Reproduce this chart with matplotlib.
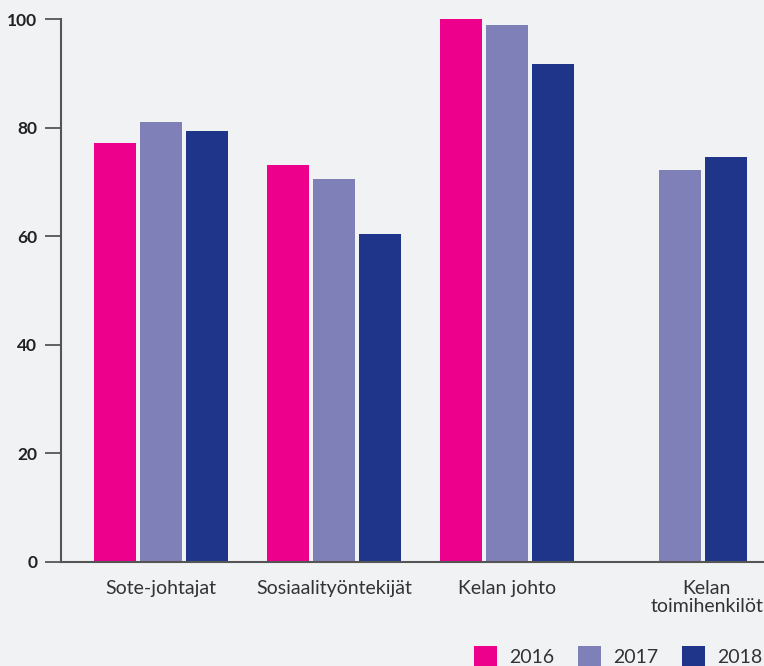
import matplotlib
matplotlib.use("Agg")
import matplotlib.pyplot as plt
import matplotlib.transforms as mtransforms
from matplotlib.patches import Patch
import numpy as np

categories = ["Sote-johtajat", "Sosiaalityöntekijät", "Kelan johto", "Kelan\ntoimihenkilöt"]
years = ["2016", "2017", "2018"]
v2016 = [77.2, 73.1, 100.0, None]
v2017 = [81.0, 70.5, 98.9, 72.2]
v2018 = [79.4, 60.4, 91.7, 74.6]
yticks = [0, 20, 40, 60, 80, 100]

colors = ["#ec008c", "#8080b8", "#1f3589"]
bg = "#f1f2f4"
axc = "#555555"
plt.rcParams['font.family'] = ['Lato', 'DejaVu Sans']

fig = plt.figure(figsize=(7.64, 6.66), dpi=100, facecolor=bg)
ax = fig.add_axes([61/764, 1-562/666, 1-61/764, (562-19)/666])
ax.set_facecolor(bg)

x = np.arange(len(categories))
width = 0.243
offset = 0.266
handles = []
for i, (vals, c, yr) in enumerate(zip([v2016, v2017, v2018], colors, years)):
    xs = [xi + (i-1)*offset for xi, v in zip(x, vals) if v is not None]
    vs = [v for v in vals if v is not None]
    ax.bar(xs, vs, width=width, color=c, zorder=2)
    handles.append(Patch(facecolor=c, label=yr))

ax.set_xlim(-0.578, 3.486)
ax.set_ylim(0, 100)
ax.set_yticks(yticks)
ax.set_yticklabels([str(t) for t in yticks], fontsize=12.5, fontweight='bold', color='#222222')
ax.tick_params(axis='y', length=11.5, width=1.3, color=axc, pad=5.5)
ax.set_xticks(x)
ax.set_xticklabels(categories, fontsize=14, color='#333333', linespacing=1.1)
ax.tick_params(axis='x', length=0, pad=13)
# shift last label
lbl = ax.get_xticklabels()[-1]
lbl.set_transform(lbl.get_transform() + mtransforms.ScaledTranslation(27/100, 0, fig.dpi_scale_trans))

for s in ['top', 'right']:
    ax.spines[s].set_visible(False)
for s in ['left', 'bottom']:
    ax.spines[s].set_color(axc)
    ax.spines[s].set_linewidth(1.5)
    ax.spines[s].set_zorder(3)

fig.legend(handles=handles, loc='lower right', bbox_to_anchor=(1.016, -0.021), ncol=3,
           frameon=False, fontsize=14, handlelength=1.2, handleheight=1.2,
           handletextpad=0.62, columnspacing=1.22, labelcolor='#333333', borderpad=0.2)

fig.savefig("out.png", dpi=100, facecolor=bg)
